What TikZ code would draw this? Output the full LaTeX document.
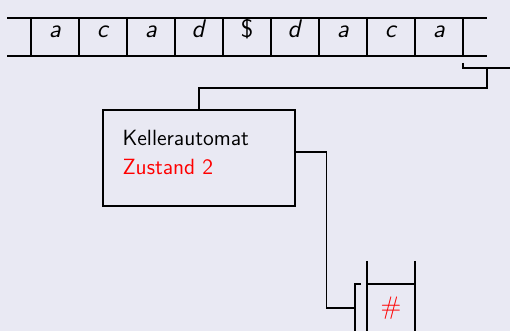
\documentclass[tikz,border=0pt]{standalone}
\usepackage{fontspec}
\definecolor{bg}{RGB}{233,233,243}
\newcommand{\tsym}[1]{\textit{#1}}
\begin{document}
\begin{tikzpicture}[x=0.5pt,y=-0.5pt,line width=0.55pt,
  font=\sffamily\fontsize{12.7}{15}\selectfont,
  sym/.style={anchor=base,inner sep=0pt},
  kbox/.style={draw,minimum width=96pt,minimum height=48pt,inner sep=0pt},
  ktext/.style={anchor=base west,inner sep=0pt,font=\sffamily\fontsize{11}{14}\selectfont}]
\fill[bg] (0,0) rectangle (510,331);
\useasboundingbox (0,0) rectangle (510,331);
\clip (0,0) rectangle (510,331);
% tape
\draw (7,18) -- (487,18);
\draw (7,56) -- (487,56);
\foreach \k in {0,...,9} \draw (31+48*\k,18) -- (31+48*\k,56);
\foreach \s [count=\i] in {\tsym{a},\tsym{c},\tsym{a},\tsym{d},\$,\tsym{d},\tsym{a},\tsym{c},\tsym{a}}
  \node[sym] (c\i) at (7+48*\i,37.5) {\s};
% head
\draw (463,63) -- (463,68) -- (511,68) -- (511,63);
\coordinate (head) at (487,68);
% automaton
\node[kbox] (automat) at (199,158) {};
\node[ktext] (keller) at (122,146) {Kellerautomat};
\node[ktext,text=red] (zustand) at (122,175) {Zustand 2};
\draw (head) -- ++(0,20) -| (automat.north);
% stack
\draw (367,261) -- (367,340);
\draw (415,261) -- (415,340);
\draw (367,284) -- (415,284);
\node[text=red] (hash) at (391,308) {\#};
\draw (361,284) -- (355,284) -- (355,332) -- (361,332);
\coordinate (stackhead) at (355,308);
\draw ([yshift=3pt]automat.east) -- ++(31,0) |- (stackhead);
\end{tikzpicture}
\end{document}
